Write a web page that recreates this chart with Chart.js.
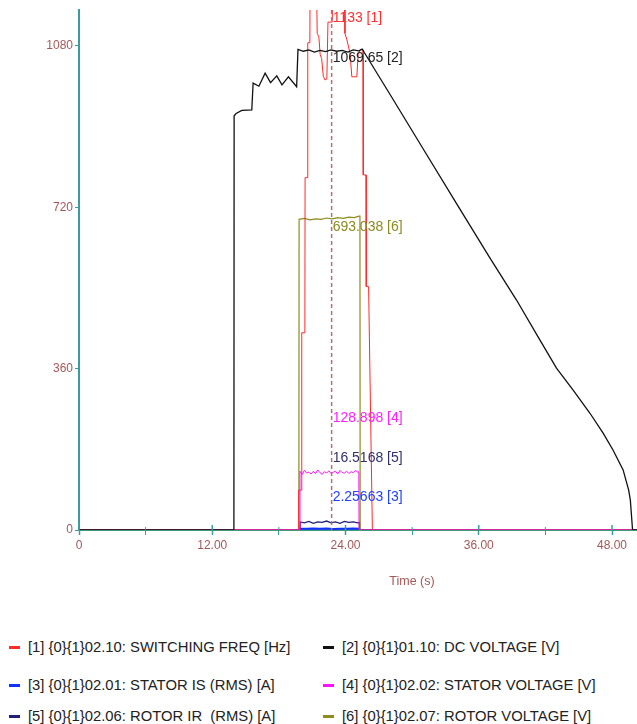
<!DOCTYPE html>
<html>
<head>
<meta charset="utf-8">
<script src="https://cdn.jsdelivr.net/npm/chart.js@4.4.1/dist/chart.umd.min.js"></script>
<style>
  html, body { margin: 0; padding: 0; background: #fff; }
  #wrap { position: relative; width: 637px; height: 724px; font-family: "Liberation Sans", Arial, sans-serif; }
  #chart { position: absolute; left: 0; top: 0; }
  .leg { position: absolute; font-size: 14.8px; color: #222; white-space: pre; line-height: 16px; }
  .leg i { position: absolute; left: -19px; top: 7px; width: 11px; height: 3px; }
</style>
</head>
<body>
<div id="wrap">
  <canvas id="chart" width="637" height="610"></canvas>
  <div id="legend"></div>
</div>
<script>
// series names and colours
var seriesNames = [
  '[1] {0}{1}02.10: SWITCHING FREQ [Hz]',
  '[2] {0}{1}01.10: DC VOLTAGE [V]',
  '[3] {0}{1}02.01: STATOR IS (RMS) [A]',
  '[4] {0}{1}02.02: STATOR VOLTAGE [V]',
  '[5] {0}{1}02.06: ROTOR IR  (RMS) [A]',
  '[6] {0}{1}02.07: ROTOR VOLTAGE [V]'
];
var seriesColors = ['#ff2a2a', '#111111', '#1030ff', '#ff10ff', '#202078', '#8c8c20'];

// [1] switching frequency
var freqT = [0, 19.76, 19.78, 20.04, 20.06, 20.34, 20.36, 20.58, 20.6, 20.79, 20.81, 21.0, 21.2, 21.38, 21.45, 21.6, 21.72, 21.85, 22.0, 22.15, 22.32, 22.42, 22.8, 22.9, 23.2, 23.5, 23.9, 23.95, 24.12, 24.41, 24.57, 25.02, 25.14, 25.32, 25.58, 25.6, 25.85, 25.87, 26.08, 26.42, 50.25];
var freqV = [0, 0, 89, 89, 440, 440, 786, 786, 1087, 1087, 1240, 1260, 1235, 1250, 1108, 1100, 1060, 1052, 1012, 1004, 1006, 1133, 1133, 1245, 1260, 1230, 1250, 1108, 1094, 1063, 1011, 1011, 1062, 1071, 1071, 792, 792, 543, 543, 0, 0];

// [2] DC voltage
var dcT = [0, 13.95, 13.97, 14.15, 14.66, 15.56, 15.68, 16.2, 16.76, 17.25, 17.81, 18.28, 18.86, 19.6, 19.72, 20.2, 20.7, 21.2, 21.7, 22.2, 22.7, 23.2, 23.7, 24.2, 24.7, 25.2, 25.5, 28, 31, 34, 37, 39.4, 41.5, 43, 44.5, 46, 47.2, 48.1, 49, 49.5, 49.65, 49.85, 50.25];
var dcV = [0, 0, 924, 929, 936, 937, 997, 990, 1019, 998, 1013, 993, 1011, 989, 1072, 1068, 1071, 1066, 1070, 1067, 1071, 1068, 1070, 1066, 1071, 1069, 1073, 972, 850, 728, 607, 513, 424, 361, 312, 261, 216, 178, 134, 89, 67, 0, 0];

// [3] stator current
var isT = [0, 19.9, 19.92, 20.5, 21.1, 21.7, 22.3, 22.9, 23.5, 24.1, 24.7, 25.25, 25.27, 50.25];
var isV = [0, 0, 3, 2.6, 3.2, 2.8, 3.1, 2.4, 3.0, 2.7, 3.2, 2.9, 0, 0];

// [4] stator voltage
var svT = [0, 19.88, 19.9, 20.1, 20.3, 20.5, 20.7, 20.9, 21.1, 21.3, 21.5, 21.7, 21.9, 22.1, 22.3, 22.5, 22.7, 22.9, 23.1, 23.3, 23.5, 23.7, 23.9, 24.1, 24.3, 24.5, 24.7, 24.9, 25.1, 25.2, 25.22, 50.25];
var svV = [0, 0, 131, 124, 133, 127, 129, 125, 131, 126, 134, 128, 124, 130, 127, 132, 126, 129, 131, 125, 133, 128, 127, 131, 126, 130, 128, 133, 129, 130, 0, 0];

// [5] rotor current
var irT = [0, 19.9, 19.92, 20.3, 20.7, 21.1, 21.5, 21.9, 22.3, 22.7, 23.1, 23.5, 23.9, 24.3, 24.7, 25.1, 25.25, 25.27, 50.25];
var irV = [0, 0, 18, 16, 19, 15, 18, 17, 20, 16, 18, 15, 19, 17, 18, 16, 17, 0, 0];

// [6] rotor voltage
var rvT = [0, 19.8, 19.82, 20.3, 20.8, 21.3, 21.8, 22.3, 22.8, 23.3, 23.8, 24.3, 24.8, 25.2, 25.3, 25.32, 50.25];
var rvV = [0, 0, 693, 695, 692, 694, 693, 696, 694, 697, 695, 698, 697, 700, 700, 0, 0];

// cursor readout
var cursorTime = 22.75;
var cursorValues = ['1133', '1069.65', '2.25663', '128.898', '16.5168', '693.038'];

var xTicks = [0, 6, 12, 18, 24, 30, 36, 42, 48];
var yTicks = [0, 360, 720, 1080];

var teal = '#3a9d9d';
var tickText = '#a35858';

function pts(t, v) {
  return t.map(function (x, i) { return { x: x, y: v[i] }; });
}

var seriesData = [pts(freqT, freqV), pts(dcT, dcV), pts(isT, isV), pts(svT, svV), pts(irT, irV), pts(rvT, rvV)];
var widths = [1, 1.3, 2, 1, 1.3, 1.2];
var orders = [3, 1, 6, 2, 5, 4];

var datasets = seriesData.map(function (d, i) {
  return {
    label: seriesNames[i],
    data: d,
    borderColor: seriesColors[i],
    borderWidth: widths[i],
    order: orders[i],
    pointRadius: 0,
    tension: 0,
    fill: false
  };
});

var cursorPlugin = {
  id: 'cursor',
  afterDatasetsDraw: function (chart) {
    var ctx = chart.ctx;
    var area = chart.chartArea;
    var xs = chart.scales.x;
    var cx = xs.getPixelForValue(cursorTime);
    ctx.save();
    // dashed cursor
    ctx.strokeStyle = '#b07272';
    ctx.lineWidth = 1.5;
    ctx.setLineDash([4, 3]);
    ctx.beginPath();
    ctx.moveTo(cx, area.top);
    ctx.lineTo(cx, area.bottom);
    ctx.stroke();
    ctx.setLineDash([]);

    // inner part of x ticks
    ctx.strokeStyle = teal;
    xTicks.forEach(function (v) {
      var px = xs.getPixelForValue(v);
      ctx.lineWidth = v % 12 === 0 ? 1.5 : 1;
      ctx.beginPath();
      ctx.moveTo(px, area.bottom);
      ctx.lineTo(px, area.bottom - (v % 12 === 0 ? 5 : 3));
      ctx.stroke();
    });

    // readout labels
    var labelY = [18, 58, 497, 418, 458, 227];
    var labelColors = ['#ff3030', '#222222', '#2040ff', '#ff20ff', '#303070', '#8a8a20'];
    ctx.font = '14px "Liberation Sans", Arial, sans-serif';
    ctx.textAlign = 'left';
    ctx.textBaseline = 'middle';
    cursorValues.forEach(function (v, i) {
      ctx.fillStyle = labelColors[i];
      ctx.fillText(v + ' [' + (i + 1) + ']', cx + 1, labelY[i]);
    });

    // axis title
    ctx.fillStyle = tickText;
    ctx.font = '12.5px "Liberation Sans", Arial, sans-serif';
    ctx.textAlign = 'center';
    ctx.fillText('Time (s)', 412, 582);
    ctx.restore();
  }
};

var chart = new Chart(document.getElementById('chart').getContext('2d'), {
  type: 'line',
  data: { datasets: datasets },
  options: {
    responsive: false,
    animation: false,
    devicePixelRatio: 1,
    layout: { padding: { top: 10, left: 0, right: 0, bottom: 0 } },
    plugins: {
      legend: { display: false },
      tooltip: { enabled: false }
    },
    scales: {
      x: {
        type: 'linear',
        min: 0,
        max: 50.25,
        afterBuildTicks: function (s) {
          s.ticks = xTicks.map(function (v) { return { value: v }; });
        },
        afterFit: function (s) { s.height = 80; },
        ticks: {
          autoSkip: false,
          maxRotation: 0,
          color: tickText,
          padding: 3,
          font: { family: '"Liberation Sans", Arial, sans-serif', size: 12 },
          callback: function (v) {
            if (v % 12 !== 0) return '';
            return v === 0 ? '0' : v.toFixed(2);
          }
        },
        grid: {
          drawOnChartArea: false,
          tickLength: 5,
          color: teal,
          tickWidth: function (c) { return c.tick && c.tick.value % 12 === 0 ? 1.5 : 1; }
        },
        border: { color: '#3f9a78', width: 2 }
      },
      y: {
        min: 0,
        max: 1160,
        afterBuildTicks: function (s) {
          s.ticks = yTicks.map(function (v) { return { value: v }; });
        },
        afterFit: function (s) { s.width = 79; },
        ticks: {
          color: tickText,
          padding: 2,
          font: { family: '"Liberation Sans", Arial, sans-serif', size: 12 },
          callback: function (v) { return String(v); }
        },
        grid: { drawOnChartArea: false, tickLength: 4, color: teal },
        border: { color: teal, width: 2 }
      }
    }
  },
  plugins: [cursorPlugin]
});

// legend in two columns
var legendLeft = [28, 342];
var legendTop = [639, 677, 708];
var legend = document.getElementById('legend');
seriesNames.forEach(function (name, i) {
  var item = document.createElement('div');
  item.className = 'leg';
  item.style.left = legendLeft[i % 2] + 'px';
  item.style.top = legendTop[Math.floor(i / 2)] + 'px';
  var mark = document.createElement('i');
  mark.style.background = seriesColors[i];
  item.appendChild(mark);
  item.appendChild(document.createTextNode(name));
  legend.appendChild(item);
});
</script>
</body>
</html>
